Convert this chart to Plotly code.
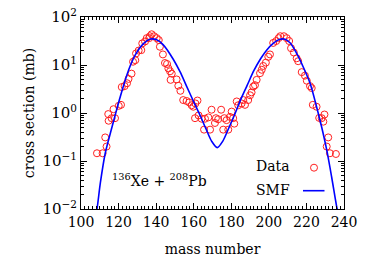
import plotly.graph_objects as go

# Experimental data (mass number, cross section in mb)
data_A = [108.5, 111.5, 113.6, 112.9, 114.7, 114.5, 116.3, 118.1, 117.3, 120.1, 121.3,
          121.7, 123.2, 124.5, 125.3, 126.9, 127.7, 128.9, 129.3, 130.7, 132.1, 132.6,
          134.1, 135.0, 136.3, 136.7, 137.6, 138.9, 140.3, 141.4, 142.0, 143.6, 144.7,
          145.8, 146.5, 147.4, 148.3, 147.7, 150.9, 151.8, 152.9, 154.4, 156.2, 157.6,
          158.9, 159.8, 160.9, 162.0, 160.7, 162.6, 164.2, 166.0, 167.8, 169.5, 171.8,
          173.0, 174.6, 176.3, 177.5, 179.3, 181.0, 180.2, 165.5, 168.7, 175.7, 178.4,
          171.3, 181.6,
          182.9, 183.7, 185.5, 187.3, 186.4, 189.0, 190.0, 190.8, 191.7, 192.6, 193.5,
          195.3, 196.2, 197.0, 198.4, 199.7, 200.6, 202.3, 203.9, 205.2, 206.1, 208.0,
          209.5, 210.8, 211.8, 213.3, 214.8, 215.6, 217.5, 219.2, 220.2, 221.9, 222.8,
          223.4, 225.4, 226.8, 228.1, 229.6, 229.0, 231.6, 230.8, 232.5, 235.7]
data_sigma = [0.145, 0.145, 0.20, 0.31, 0.69, 0.95, 0.78, 0.78, 1.2, 1.41, 1.48,
              3.47, 3.63, 4.17, 5.13, 6.61, 11.7, 12.6, 17.4, 20.0, 20.4, 28.2,
              30.9, 36.3, 36.3, 39.8, 43.7, 39.8, 36.3, 33.1, 24.0, 16.6, 11.0,
              10.5, 8.5, 7.4, 6.6, 4.9, 5.0, 3.7, 2.9, 1.86, 1.78, 1.66,
              1.45, 1.35, 1.58, 1.82, 0.78, 0.89, 0.76, 0.76, 0.81, 1.17, 0.78,
              0.74, 1.17, 0.78, 0.71, 0.83, 0.78, 1.07, 0.45, 0.45, 0.45, 0.45,
              0.62, 0.60,
              1.74, 1.45, 1.58, 1.48, 1.86, 1.86, 2.34, 2.69, 3.55, 3.80, 4.90,
              6.76, 7.94, 9.55, 11.2, 14.8, 16.6, 28.8, 31.6, 36.3, 39.8, 39.8,
              36.3, 31.6, 22.4, 18.2, 13.8, 12.0, 7.1, 6.0, 4.7, 3.63, 3.31,
              1.48, 1.35, 0.79, 0.78, 0.93, 0.66, 0.31, 0.20, 0.145, 0.14]

# SMF calculation (mass number, cross section in mb)
smf_A = [108.0, 108.5, 110.3, 112.9, 116.5, 120.9, 125.4, 128.9, 133.4, 137.0, 140.0,
         143.8, 149.1, 152.7, 156.3, 159.8, 163.3, 166.5, 169.5, 172.5, 175.5, 178.5,
         181.7, 185.0, 188.5, 192.0, 195.6, 198.8, 202.3, 205.5, 208.2, 211.4, 214.8,
         218.3, 221.9, 225.4, 228.1, 230.8, 233.4, 236.1, 236.4, 237.0]
smf_sigma = [0.0085, 0.010, 0.035, 0.145, 0.51, 2.19, 7.94, 16.2, 28.2, 34.7, 33.9,
             26.3, 13.2, 7.24, 3.55, 1.78, 0.91, 0.47, 0.26, 0.19, 0.26, 0.47,
             0.91, 1.90, 3.80, 7.60, 13.5, 20.4, 28.2, 33.9, 34.7, 28.8, 17.4,
             9.1, 4.2, 1.35, 0.51, 0.17, 0.047, 0.0112, 0.010, 0.0085]

x_ticks = [100, 120, 140, 160, 180, 200, 220, 240]
y_tickvals = [0.01, 0.1, 1, 10, 100]
y_ticktext = ["10<sup>\u22122</sup>", "10<sup>\u22121</sup>", "10<sup>0</sup>",
              "10<sup>1</sup>", "10<sup>2</sup>"]

FONT = "DejaVu Serif"

fig = go.Figure()
fig.add_trace(go.Scatter(
    x=data_A, y=data_sigma, mode="markers", name="Data",
    marker=dict(symbol="circle-open", size=7, color="#ff2020", line=dict(width=1)),
    showlegend=False, cliponaxis=True))
fig.add_trace(go.Scatter(
    x=smf_A, y=smf_sigma, mode="lines", name="SMF",
    line=dict(color="#0000ff", width=1.6, shape="spline", smoothing=0.8),
    showlegend=False))

# plot area in paper coords: left 81, right 344, top 17, bottom 209 (px)
def px2paper(px, py):
    return (px - 81) / 263.0, (209 - py) / 192.0

annots = []
tx, ty = px2paper(292, 166)
annots.append(dict(x=tx, y=ty, xref="paper", yref="paper", text="Data",
                   showarrow=False, xanchor="right", yanchor="middle",
                   font=dict(family=FONT, size=14, color="black")))
tx, ty = px2paper(292, 190)
annots.append(dict(x=tx, y=ty, xref="paper", yref="paper", text="SMF",
                   showarrow=False, xanchor="right", yanchor="middle",
                   font=dict(family=FONT, size=14, color="black")))
tx, ty = px2paper(110, 180)
annots.append(dict(x=tx, y=ty, xref="paper", yref="paper",
                   text="<sup>136</sup>Xe + <sup>208</sup>Pb",
                   showarrow=False, xanchor="left", yanchor="middle",
                   font=dict(family=FONT, size=14, color="black")))

shapes = []
cx0, cy0 = px2paper(310.5, 171.2)
cx1, cy1 = px2paper(317.5, 164.2)
shapes.append(dict(type="circle", xref="paper", yref="paper",
                   x0=cx0, y0=cy0, x1=cx1, y1=cy1,
                   line=dict(color="#ff2020", width=1)))
lx0, ly = px2paper(303, 190.7)
lx1, _ = px2paper(324.5, 190.7)
shapes.append(dict(type="line", xref="paper", yref="paper",
                   x0=lx0, y0=ly, x1=lx1, y1=ly,
                   line=dict(color="#0000ff", width=1.6)))

fig.update_layout(
    width=375, height=263,
    margin=dict(l=81, r=31, t=17, b=54, autoexpand=False),
    paper_bgcolor="white", plot_bgcolor="white",
    font=dict(family=FONT, size=14, color="black"),
    annotations=annots, shapes=shapes,
    xaxis=dict(
        range=[100, 240], tickvals=x_ticks, ticks="inside", ticklen=6,
        tickwidth=1, tickcolor="black", showline=True, linecolor="black",
        linewidth=1, mirror="allticks", showgrid=False, zeroline=False,
        tickfont=dict(family=FONT, size=14),
        minor=dict(dtick=2, ticks="inside", ticklen=3, tickcolor="black",
                   showgrid=False),
        title=dict(text="mass number", standoff=15,
                   font=dict(family=FONT, size=14)),
        automargin=False),
    yaxis=dict(
        type="log", range=[-2, 2], tickvals=y_tickvals, ticktext=y_ticktext,
        ticks="inside", ticklen=6, tickwidth=1, tickcolor="black",
        showline=True, linecolor="black", linewidth=1, mirror="allticks",
        showgrid=False, zeroline=False,
        tickfont=dict(family=FONT, size=15),
        minor=dict(dtick="D1", ticks="inside", ticklen=3, tickcolor="black",
                   showgrid=False),
        title=dict(text="cross section (mb)", standoff=4,
                   font=dict(family=FONT, size=14)),
        automargin=False),
)

fig.write_html("out.html")
